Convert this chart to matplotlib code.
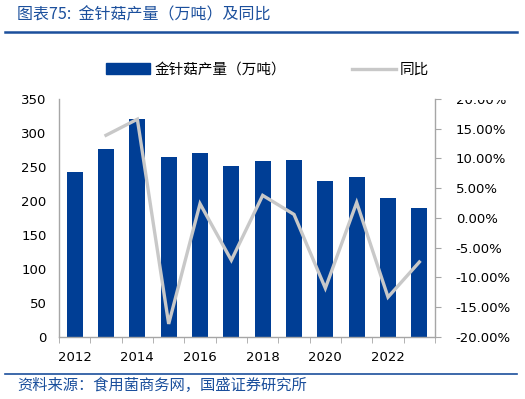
import matplotlib.pyplot as plt
import matplotlib.ticker as mticker
from matplotlib.lines import Line2D
from matplotlib.patches import Rectangle
import numpy as np

plt.rcParams['font.family'] = ['DejaVu Sans', 'Noto Sans CJK SC']

years = [2012, 2013, 2014, 2015, 2016, 2017, 2018, 2019, 2020, 2021, 2022, 2023]
output = [242, 276, 321, 264, 270, 251, 259, 261, 230, 236, 205, 189]
yoy = [None, 13.9, 16.6, -17.8, 2.4, -7.1, 3.8, 0.6, -11.8, 2.6, -13.3, -7.4]

bar_color = '#003E95'
line_color = '#C8C8C8'
title_color = '#1B4F9C'
axis_color = '#A6A6A6'

fig = plt.figure(figsize=(5.25, 3.99), dpi=100)
ax = fig.add_axes([0.1124, 0.1554, 0.7162, 0.5965])
ax2 = ax.twinx()

x = np.arange(len(years))
ax.bar(x, output, width=0.52, color=bar_color, zorder=2)
ax.set_xlim(-0.5, len(years) - 0.5)
ax.set_ylim(0, 350)
ax.set_yticks(range(0, 351, 50))

yoy_x = [i for i, v in zip(x, yoy) if v is not None]
yoy_v = [v for v in yoy if v is not None]
ax2.plot(yoy_x, yoy_v, color=line_color, lw=2.4, zorder=3, solid_joinstyle='miter')
ax2.set_ylim(-20, 20)
ax2.set_yticks(range(-20, 21, 5))
ax2.yaxis.set_major_formatter(mticker.FuncFormatter(lambda v, p: f'{v:.2f}%'))

# x ticks: labels every other year, ticks at category boundaries
ax.set_xticks(x[::2])
ax.set_xticklabels([str(y) for y in years[::2]])
ax.set_xticks(np.arange(-0.5, len(years), 1), minor=True)
ax.tick_params(axis='x', which='major', length=0, pad=10, labelsize=9.5)
ax.tick_params(axis='x', which='minor', length=4, color=axis_color, direction='out')
ax.tick_params(axis='y', length=0, labelsize=9.5, pad=9)
ax2.tick_params(axis='y', length=4, color=axis_color, labelsize=9.5, pad=11)

for a in (ax, ax2):
    for s in a.spines.values():
        s.set_visible(False)
ax.spines['left'].set_visible(True)
ax.spines['bottom'].set_visible(True)
ax2.spines['right'].set_visible(True)
for s in (ax.spines['left'], ax.spines['bottom'], ax2.spines['right']):
    s.set_color(axis_color)
    s.set_linewidth(1.0)

# the top right label is cut off in the original
fig.add_artist(Rectangle((0.845, 0.75), 0.15, 0.03, transform=fig.transFigure,
                         facecolor='white', edgecolor='none', zorder=10))

# legend
handles = [Rectangle((0, 0), 1, 1, color=bar_color),
           Line2D([0], [0], color=line_color, lw=2.4)]
fig.legend(handles, ['金针菇产量（万吨）', '同比'], loc='center',
           bbox_to_anchor=(0.51, 0.825), ncol=2, frameon=False,
           handlelength=3.0, handleheight=0.8,
           columnspacing=4.5, handletextpad=0.3,
           prop={'family': ['Noto Sans CJK SC'], 'size': 10.5})

# title and rules
fig.text(0.032, 0.962, '图表75:  金针菇产量（万吨）及同比', color=title_color,
         fontsize=11.5, family=['Noto Sans CJK SC'], style='italic', va='center')
fig.add_artist(Line2D([0.01, 0.985], [0.92, 0.92], color='#1B4F9C', lw=1.8,
                      transform=fig.transFigure))
fig.add_artist(Line2D([0.01, 0.985], [0.062, 0.062], color='#1B4F9C', lw=1.2,
                      transform=fig.transFigure))
fig.text(0.032, 0.033, '资料来源：食用菌商务网，国盛证券研究所', color=title_color,
         fontsize=11, family=['Noto Sans CJK SC'], style='italic', va='center')

fig.savefig('out.png', dpi=100)
